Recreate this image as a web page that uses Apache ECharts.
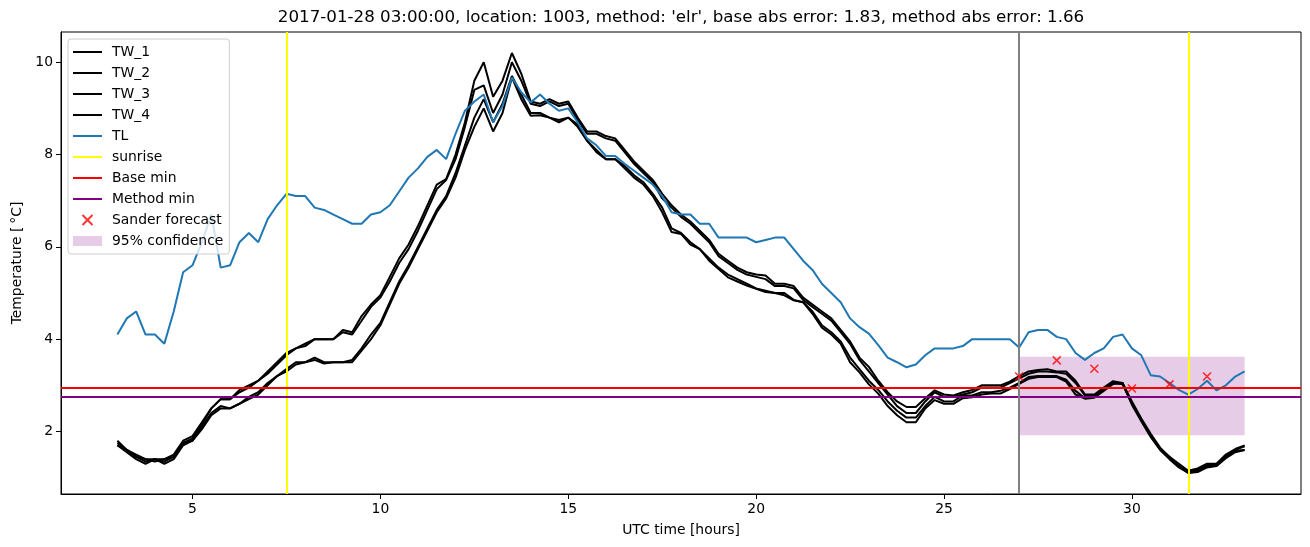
<!DOCTYPE html>
<html>
<head>
<meta charset="utf-8">
<script src="https://cdn.jsdelivr.net/npm/echarts@6/dist/echarts.min.js"></script>
<style>
html, body { margin: 0; padding: 0; background: #fff; }
#main { width: 1310px; height: 547px; }
</style>
</head>
<body>
<div id="main"></div>
<script>
// readings every 15 minutes, from 03:00 on day 1 to 09:00 on day 2 (hours since midnight)
const startHour = 3;
const stepHour = 0.25;

const tl = [
  4.1, 4.45, 4.6, 4.1, 4.1, 3.9, 4.6, 5.45, 5.6, 6.1,
  6.7, 5.55, 5.6, 6.1, 6.3, 6.1, 6.6, 6.9, 7.15, 7.1,
  7.1, 6.85, 6.8, 6.7, 6.6, 6.5, 6.5, 6.7, 6.75, 6.9,
  7.2, 7.5, 7.7, 7.95, 8.1, 7.9, 8.45, 8.95, 9.15, 9.3,
  8.7, 9.05, 9.67, 9.35, 9.13, 9.3, 9.1, 8.95, 9.0, 8.7,
  8.35, 8.2, 7.97, 7.97, 7.8, 7.65, 7.5, 7.35, 7.1, 6.75,
  6.7, 6.7, 6.5, 6.5, 6.2, 6.2, 6.2, 6.2, 6.1, 6.15,
  6.2, 6.2, 5.95, 5.7, 5.5, 5.2, 5.0, 4.8, 4.45, 4.26,
  4.12, 3.87, 3.6, 3.5, 3.39, 3.45, 3.65, 3.8, 3.8, 3.8,
  3.85, 4.0, 4.0, 4.0, 4.0, 4.0, 3.82, 4.15, 4.2, 4.2,
  4.05, 4.0, 3.7, 3.55, 3.7, 3.8, 4.05, 4.1, 3.8, 3.65,
  3.22, 3.19, 3.05, 2.9, 2.8, 2.92, 3.1, 2.89, 3.0, 3.19,
  3.3
];

const tw1 = [
  1.8, 1.6, 1.5, 1.4, 1.4, 1.4, 1.5, 1.8, 1.9, 2.2,
  2.5, 2.7, 2.7, 2.9, 3.0, 3.1, 3.3, 3.5, 3.7, 3.8,
  3.9, 4.0, 4.0, 4.0, 4.2, 4.15, 4.5, 4.75, 4.95, 5.35,
  5.75, 6.05, 6.45, 6.9, 7.35, 7.47, 8.0, 8.7, 9.6, 10.0,
  9.25, 9.6, 10.2, 9.75, 9.15, 9.1, 9.2, 9.1, 9.15, 8.8,
  8.5, 8.5, 8.4, 8.35, 8.1, 7.85, 7.65, 7.45, 7.15, 6.9,
  6.7, 6.55, 6.35, 6.15, 5.85, 5.7, 5.55, 5.45, 5.4, 5.38,
  5.2, 5.2, 5.15, 4.9, 4.75, 4.6, 4.45, 4.2, 3.95, 3.6,
  3.4, 3.1, 2.85, 2.65, 2.53, 2.53, 2.72, 2.89, 2.8, 2.78,
  2.85, 2.9, 3.0, 3.0, 3.0, 3.08, 3.2, 3.3, 3.33, 3.35,
  3.3, 3.3, 3.1, 2.8, 2.8, 2.95, 3.09, 3.05, 2.65, 2.28,
  1.95, 1.65, 1.45, 1.3, 1.15, 1.2, 1.3, 1.3, 1.5, 1.62,
  1.7
];

const tw2 = [
  1.75, 1.6, 1.45, 1.4, 1.35, 1.4, 1.45, 1.75, 1.85, 2.15,
  2.5, 2.7, 2.7, 2.85, 2.95, 3.1, 3.25, 3.45, 3.65, 3.8,
  3.85, 4.0, 4.0, 4.0, 4.15, 4.1, 4.4, 4.7, 4.9, 5.25,
  5.65, 5.95, 6.35, 6.8, 7.25, 7.45, 7.9, 8.6, 9.4, 9.5,
  8.9, 9.3, 10.0, 9.6, 9.1, 9.05, 9.15, 9.05, 9.1, 8.75,
  8.45, 8.45, 8.35, 8.3, 8.05, 7.8, 7.6, 7.4, 7.05, 6.85,
  6.65, 6.5, 6.3, 6.1, 5.8, 5.65, 5.5, 5.4, 5.35, 5.3,
  5.15, 5.15, 5.1, 4.85, 4.7, 4.55, 4.4, 4.15, 3.9, 3.55,
  3.3, 3.05, 2.8, 2.55, 2.4, 2.4, 2.65, 2.85, 2.75, 2.75,
  2.8, 2.85, 2.95, 2.95, 2.95, 3.05, 3.15, 3.25, 3.3, 3.3,
  3.28, 3.25, 3.05, 2.78, 2.78, 2.92, 3.05, 3.02, 2.62, 2.25,
  1.92, 1.62, 1.42, 1.25, 1.12, 1.18, 1.28, 1.28, 1.48, 1.6,
  1.68
];

const tw3 = [
  1.7, 1.6, 1.45, 1.35, 1.4, 1.35, 1.45, 1.75, 1.8, 2.1,
  2.4, 2.55, 2.5, 2.6, 2.75, 2.85, 3.05, 3.2, 3.35, 3.5,
  3.5, 3.6, 3.5, 3.5, 3.5, 3.55, 3.8, 4.1, 4.35, 4.8,
  5.25, 5.6, 6.0, 6.4, 6.8, 7.1, 7.6, 8.2, 8.8, 9.2,
  8.7, 9.1, 9.7, 9.3, 8.9, 8.9, 8.8, 8.75, 8.8, 8.65,
  8.3, 8.1, 7.9, 7.9, 7.75, 7.55, 7.4, 7.15, 6.85, 6.4,
  6.3, 6.1, 5.95, 5.75, 5.55, 5.4, 5.3, 5.2, 5.1, 5.05,
  5.0, 5.0, 4.85, 4.8, 4.6, 4.3, 4.15, 3.95, 3.6, 3.35,
  3.1, 2.9, 2.65, 2.45, 2.3, 2.3, 2.55, 2.75, 2.65, 2.65,
  2.78, 2.78, 2.85, 2.85, 2.88, 2.95, 3.05, 3.18, 3.2, 3.2,
  3.2, 3.12, 2.88, 2.72, 2.75, 2.9, 3.05, 3.05, 2.6, 2.25,
  1.9, 1.62, 1.45, 1.25, 1.1, 1.15, 1.25, 1.25, 1.45, 1.58,
  1.6
];

const tw4 = [
  1.7, 1.55, 1.4, 1.3, 1.4, 1.3, 1.4, 1.7, 1.8, 2.05,
  2.35, 2.5, 2.5, 2.6, 2.7, 2.8, 3.0, 3.2, 3.3, 3.45,
  3.5, 3.55, 3.47, 3.5, 3.5, 3.5, 3.75, 4.0, 4.3, 4.75,
  5.2, 5.55, 5.95, 6.35, 6.75, 7.05, 7.5, 8.1, 8.6, 9.0,
  8.5, 8.9, 9.67, 9.2, 8.84, 8.85, 8.8, 8.7, 8.8, 8.6,
  8.3, 8.05, 7.9, 7.9, 7.7, 7.5, 7.35, 7.1, 6.75, 6.32,
  6.28, 6.05, 5.95, 5.7, 5.52, 5.34, 5.25, 5.16, 5.09, 5.02,
  5.0, 4.95, 4.84, 4.8, 4.55, 4.25, 4.1, 3.9, 3.5, 3.28,
  3.02, 2.82, 2.55, 2.35, 2.2, 2.2, 2.5, 2.68, 2.6, 2.6,
  2.72, 2.74, 2.8, 2.82, 2.82, 2.92, 3.03, 3.14, 3.18, 3.18,
  3.18, 3.08, 2.8, 2.71, 2.73, 2.88, 3.03, 3.05, 2.58, 2.22,
  1.88, 1.6, 1.4, 1.22, 1.1, 1.12, 1.22, 1.25, 1.42, 1.55,
  1.6
];

const sunriseHours = [7.5, 31.5];
const forecastStart = 27;
const baseMin = 2.94;
const methodMin = 2.76;

const sanderHours = [27, 28, 29, 30, 31, 32];
const sanderTemps = [3.19, 3.54, 3.36, 2.93, 3.02, 3.19];

const ciStart = 27;
const ciEnd = 33;
const ciLow = 1.92;
const ciHigh = 3.62;

const xTicks = [5, 10, 15, 20, 25, 30];
const yTicks = [2, 4, 6, 8, 10];

const hours = tl.map((_, i) => startHour + i * stepHour);
const pairs = values => hours.map((h, i) => [h, values[i]]);

const font = 'DejaVu Sans';
// thin bar as legend handle, so line entries show no dot
const lineIcon = 'path://M0,0H20V1.4H0Z';
const chart = echarts.init(document.getElementById('main'));

function tempLine(name, values, color, z) {
  return {
    name: name,
    type: 'line',
    data: pairs(values),
    symbol: 'none',
    showSymbol: false,
    color: color,
    lineStyle: { color: color, width: 2 },
    emphasis: { disabled: true },
    z: z,
  };
}

function refLine(name, color, lines) {
  return {
    name: name,
    type: 'line',
    data: [],
    symbol: 'none',
    color: color,
    z: 4,
    markLine: {
      silent: true,
      symbol: ['none', 'none'],
      label: { show: false },
      lineStyle: { color: color, width: 2, type: 'solid' },
      data: lines,
    },
  };
}

const option = {
  animation: false,
  title: {
    text: "2017-01-28 03:00:00, location: 1003, method: 'elr', base abs error: 1.83, method abs error: 1.66",
    left: 681,
    top: 9,
    padding: 0,
    textAlign: 'center',
    textStyle: { fontFamily: font, fontSize: 16.7, fontWeight: 'normal', color: '#000' },
  },
  legend: {
    orient: 'vertical',
    left: 68,
    top: 39,
    itemWidth: 29,
    itemHeight: 10,
    itemGap: 7,
    padding: [6, 6, 6, 5],
    backgroundColor: 'rgba(255,255,255,0.8)',
    borderColor: '#cccccc',
    borderWidth: 1,
    borderRadius: 3,
    textStyle: { fontFamily: font, fontSize: 13.9, color: '#000', lineHeight: 14, padding: [0, 0, 0, 5] },
    data: [
      { name: 'TW_1', icon: lineIcon },
      { name: 'TW_2', icon: lineIcon },
      { name: 'TW_3', icon: lineIcon },
      { name: 'TW_4', icon: lineIcon },
      { name: 'TL', icon: lineIcon },
      { name: 'sunrise', icon: lineIcon },
      { name: 'Base min', icon: lineIcon },
      { name: 'Method min', icon: lineIcon },
      'Sander forecast',
      { name: '95% confidence', icon: 'rect' },
    ],
  },
  grid: { left: 61, right: 9, top: 32, bottom: 53, show: true, borderColor: '#000', borderWidth: 1 },
  xAxis: {
    type: 'value',
    min: 1.5,
    max: 34.5,
    name: 'UTC time [hours]',
    nameLocation: 'middle',
    nameGap: 29,
    nameTextStyle: { fontFamily: font, fontSize: 13.9, color: '#000' },
    axisLine: { show: true, lineStyle: { color: '#000', width: 1 } },
    axisTick: { show: true, length: 5, customValues: xTicks, lineStyle: { color: '#000' } },
    axisLabel: { margin: 8, customValues: xTicks, fontFamily: font, fontSize: 13.9, color: '#000' },
    splitLine: { show: false },
  },
  yAxis: {
    type: 'value',
    min: 0.645,
    max: 10.655,
    name: 'Temperature [\u2009°C]',
    nameLocation: 'middle',
    nameGap: 36,
    nameTextStyle: { fontFamily: font, fontSize: 13.9, color: '#000' },
    axisLine: { show: true, lineStyle: { color: '#000', width: 1 } },
    axisTick: { show: true, length: 5, customValues: yTicks, lineStyle: { color: '#000' } },
    axisLabel: { margin: 8, customValues: yTicks, fontFamily: font, fontSize: 13.9, color: '#000' },
    splitLine: { show: false },
  },
  series: [
    {
      name: '95% confidence',
      type: 'bar',
      data: [],
      color: 'rgba(128,0,128,0.2)',
      z: 1,
      markArea: {
        silent: true,
        itemStyle: { color: 'rgba(128,0,128,0.2)' },
        data: [[{ coord: [ciStart, ciHigh] }, { coord: [ciEnd, ciLow] }]],
      },
    },
    tempLine('TW_1', tw1, '#000000', 2),
    tempLine('TW_2', tw2, '#000000', 2),
    tempLine('TW_3', tw3, '#000000', 2),
    tempLine('TW_4', tw4, '#000000', 2),
    tempLine('TL', tl, '#1f77b4', 3),
    refLine('sunrise', '#ffff00', sunriseHours.map(h => ({ xAxis: h }))),
    refLine('Base min', '#ff0000', [{ yAxis: baseMin }]),
    refLine('Method min', '#800080', [{ yAxis: methodMin }]),
    refLine('forecast start', '#808080', [{ xAxis: forecastStart }]),
    {
      name: 'Sander forecast',
      type: 'scatter',
      data: sanderHours.map((h, i) => [h, sanderTemps[i]]),
      symbol: 'path://M0,0L10,10M10,0L0,10',
      symbolSize: 8,
      color: '#ff0000',
      itemStyle: { color: 'transparent', borderColor: '#ff0000', borderWidth: 1.6 },
      emphasis: { disabled: true },
      z: 5,
    },
  ],
};

chart.setOption(option);
</script>
</body>
</html>
